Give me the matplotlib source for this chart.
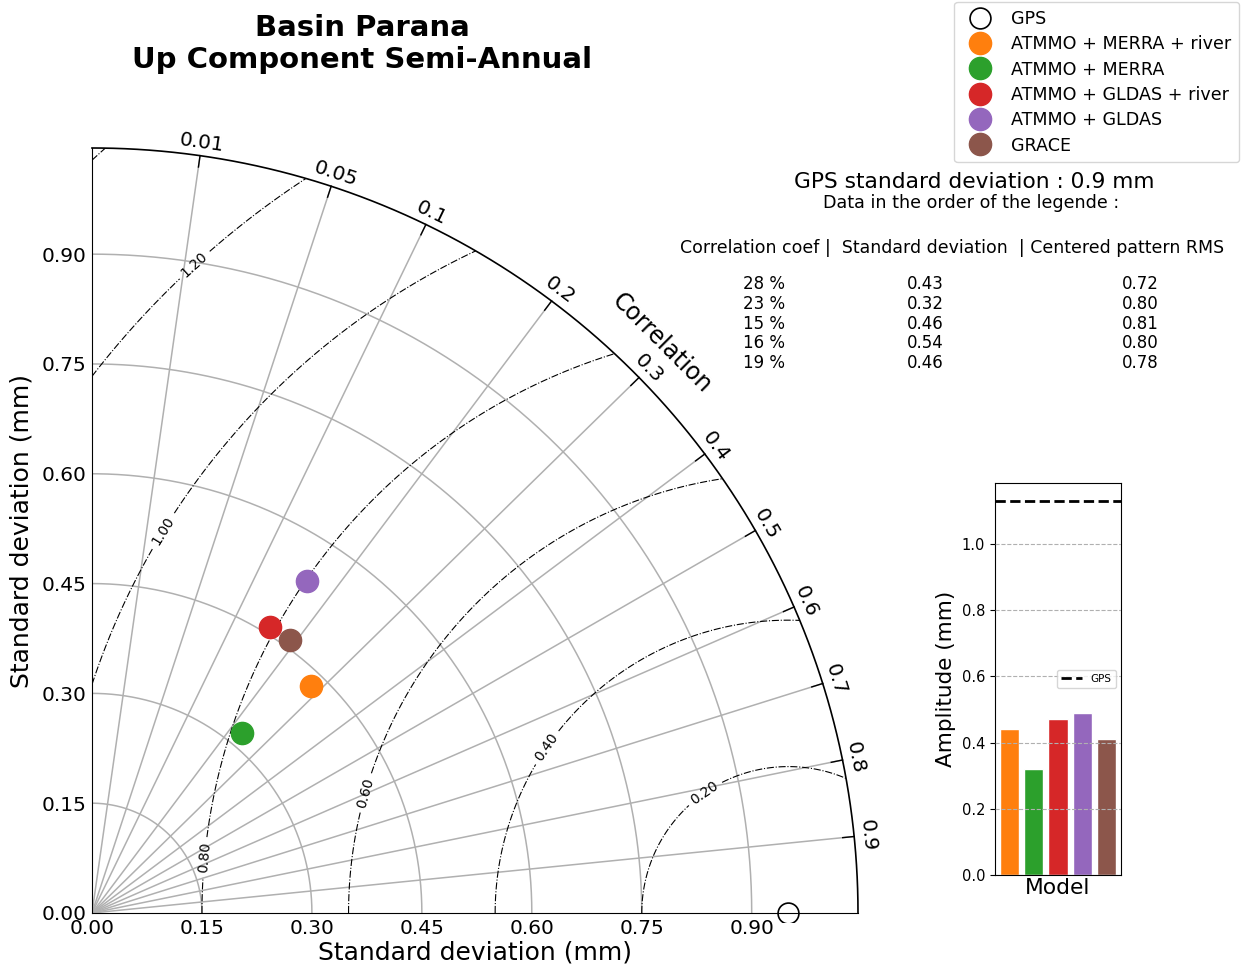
import matplotlib.pyplot as plt
from matplotlib.patches import Rectangle
import numpy as np

# données
models = ['ATMMO + MERRA + river', 'ATMMO + MERRA', 'ATMMO + GLDAS + river',
          'ATMMO + GLDAS', 'GRACE']
colors = ['#ff7f0e', '#2ca02c', '#d62728', '#9467bd', '#8c564b']
corr = [0.28, 0.23, 0.15, 0.16, 0.19]
std = [0.43, 0.32, 0.46, 0.54, 0.46]
crms = [0.72, 0.80, 0.81, 0.80, 0.78]
amp = [0.44, 0.32, 0.47, 0.49, 0.41]
gps_std = 0.95
gps_amp = 1.13
corr_ticks = [0.01, 0.05, 0.1, 0.2, 0.3, 0.4, 0.5, 0.6, 0.7, 0.8, 0.9]
std_ticks = [0.0, 0.15, 0.30, 0.45, 0.60, 0.75, 0.90]
rms_levels = [0.2, 0.4, 0.6, 0.8, 1.0, 1.2, 1.4]
rms_label_pos = [(0.836, 0.164), (0.622, 0.225), (0.374, 0.164),
                 (0.154, 0.076), (0.097, 0.523), (0.141, 0.884)]

rmax = 1.1 * gps_std

fig = plt.figure(figsize=(12.46, 9.73), dpi=100)
ax = fig.add_axes([92/1246, 60/973, 766/1246, 765/973])
ax.set_xlim(0, rmax)
ax.set_ylim(0, rmax)
ax.spines['top'].set_visible(False)
ax.spines['right'].set_visible(False)
ax.set_xticks(std_ticks)
ax.set_yticks(std_ticks)
ax.set_xticklabels(['%.2f' % s for s in std_ticks])
ax.set_yticklabels(['%.2f' % s for s in std_ticks])
ax.tick_params(labelsize=14.5, length=0, pad=4)
ax.set_xlabel('Standard deviation (mm)', fontsize=18, labelpad=2)
ax.set_ylabel('Standard deviation (mm)', fontsize=18, labelpad=6)

# grille : arcs de std et rayons de correlation
t = np.linspace(0, np.pi/2, 400)
for s in std_ticks[1:]:
    ax.plot(s*np.cos(t), s*np.sin(t), color='#b0b0b0', lw=1.1, zorder=1)
ax.plot(rmax*np.cos(t), rmax*np.sin(t), color='black', lw=1.2, zorder=3, clip_on=False)
for c in corr_ticks:
    th = np.arcsin(1 - c)
    ax.plot([0, rmax*np.cos(th)], [0, rmax*np.sin(th)], color='#b0b0b0', lw=1.1, zorder=1)
    ax.plot([0.985*rmax*np.cos(th), rmax*np.cos(th)],
            [0.985*rmax*np.sin(th), rmax*np.sin(th)], color='black', lw=1, zorder=3)
    ax.text(1.063*np.cos(th), 1.063*np.sin(th), '%g' % c, fontsize=14.5,
            rotation=np.degrees(th) - 90, ha='center', va='center',
            rotation_mode='anchor', clip_on=False)
ax.text(1.10*np.cos(np.pi/4), 1.10*np.sin(np.pi/4), 'Correlation', fontsize=17,
        rotation=-45, ha='center', va='center', rotation_mode='anchor')

# contours RMS centree
rr, tt = np.meshgrid(np.linspace(0, rmax, 300), np.linspace(0, np.pi/2, 300))
X = rr*np.cos(tt)
Y = rr*np.sin(tt)
Z = np.sqrt((X - gps_std)**2 + Y**2)
cs = ax.contour(X, Y, Z, levels=rms_levels, colors='black', linestyles='-.',
                linewidths=0.8, zorder=2)
ax.clabel(cs, levels=rms_levels[:-1], fmt='%.2f', fontsize=10, inline=True,
          manual=rms_label_pos)

# points
handles = []
h, = ax.plot(gps_std, 0, 'o', ms=15, mfc='none', mec='black', mew=1.2,
             zorder=6, label='GPS')
h.set_clip_path(Rectangle((0, -0.012), 1.2, 1.2, transform=ax.transAxes))
handles.append(h)
for m, c, s, col in zip(models, corr, std, colors):
    th = np.arcsin(1 - c)
    h, = ax.plot(s*np.cos(th), s*np.sin(th), 'o', ms=16, color=col,
                 zorder=6, label=m)
    handles.append(h)

fig.legend(handles=handles, loc='upper right', bbox_to_anchor=(0.9945, 0.998),
           borderaxespad=0, fontsize=12.6, numpoints=1, labelspacing=0.42,
           borderpad=0.45, handletextpad=0.8)

# titre et textes
fig.text(362/1246, 1 - 14/973, 'Basin Parana\nUp Component Semi-Annual',
         ha='center', va='top', fontsize=21, fontweight='bold')
fig.text(974/1246, 1 - 182/973, 'GPS standard deviation : %.1f mm' % 0.9,
         ha='center', va='center', fontsize=15.7)
fig.text(971/1246, 1 - 203/973, 'Data in the order of the legende :',
         ha='center', va='center', fontsize=12.6)
fig.text(952/1246, 1 - 248/973,
         'Correlation coef |  Standard deviation  | Centered pattern RMS',
         ha='center', va='center', fontsize=12.5)
fig.text(764/1246, 1 - 275/973, '\n'.join('%d %%' % round(c*100) for c in corr),
         ha='center', va='top', fontsize=12, linespacing=1.13)
fig.text(925/1246, 1 - 275/973, '\n'.join('%.2f' % s for s in std),
         ha='center', va='top', fontsize=12, linespacing=1.13)
fig.text(1140/1246, 1 - 275/973, '\n'.join('%.2f' % r for r in crms),
         ha='center', va='top', fontsize=12, linespacing=1.13)

# encart : amplitudes
bx = fig.add_axes([995/1246, 98/973, 126/1246, 392/973])
bx.bar(range(len(amp)), amp, color=colors, width=0.8, edgecolor='white', linewidth=1)
bx.axhline(gps_amp, color='black', ls='--', lw=2, label='GPS')
bx.set_xlim(-0.6, len(amp) - 0.4)
bx.set_ylim(0, 1.184)
bx.set_yticks([0, 0.2, 0.4, 0.6, 0.8, 1.0])
bx.set_xticks([])
bx.yaxis.grid(True, ls='--', color='#b0b0b0')
bx.set_axisbelow(False)
bx.tick_params(labelsize=10.5)
bx.set_xlabel('Model', fontsize=15.7, labelpad=2)
bx.set_ylabel('Amplitude (mm)', fontsize=15.5)
bx.legend(loc='center right', fontsize=7.5)

fig.savefig('out.png', dpi=100)
